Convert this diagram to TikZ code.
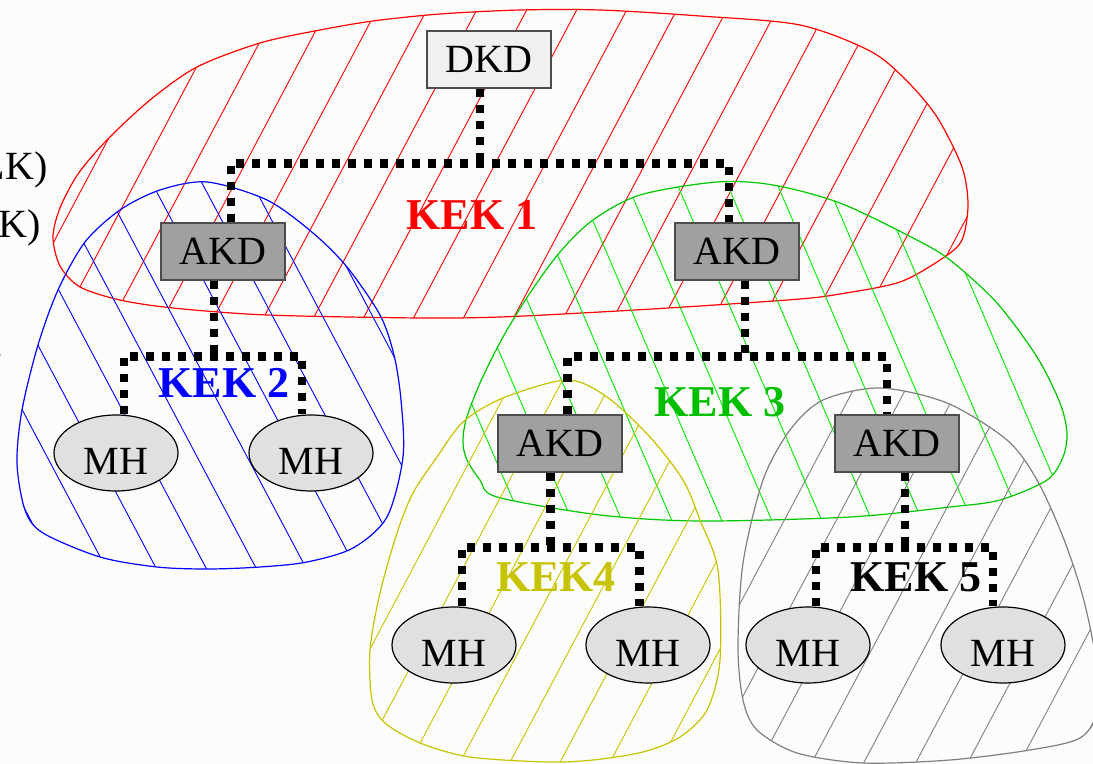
\documentclass[tikz,border=0pt]{standalone}
\usepackage{fontspec}
\setmainfont{Liberation Serif}
\usepackage{xcolor}
\usepackage{tikz}
\usetikzlibrary{shapes.geometric, positioning}

\definecolor{bgcol}{RGB}{252,252,250}
\definecolor{kekred}{RGB}{255,0,0}
\definecolor{kekblue}{RGB}{0,0,255}
\definecolor{kekgreen}{RGB}{0,200,0}
\definecolor{hatchgreen}{RGB}{0,235,0}
\definecolor{kekyellow}{RGB}{200,195,0}
\definecolor{kekgray}{RGB}{128,128,128}
\definecolor{dkdfill}{RGB}{240,240,240}
\definecolor{akdfill}{RGB}{160,160,160}
\definecolor{mhfill}{RGB}{224,224,224}

\begin{document}
\begin{tikzpicture}[x=0.5pt, y=-0.5pt,
    box/.style={draw=black!70, line width=0.7pt, minimum width=62pt, minimum height=28.5pt, inner sep=0pt, font=\fontsize{20}{24}\selectfont},
    dkdbox/.style={box, fill=dkdfill},
    akdbox/.style={box, fill=akdfill},
    mh/.style={ellipse, draw=black, line width=0.6pt, fill=mhfill, minimum width=62pt, minimum height=38pt, inner sep=0pt, text height=22pt, text depth=0pt, font=\fontsize{20}{24}\selectfont},
    link/.style={line width=4.2pt, dash pattern=on 4pt off 4pt},
    keklabel/.style={font=\fontsize{22}{26}\selectfont\bfseries},
    lefttext/.style={inner sep=0pt, font=\fontsize{20}{24}\selectfont},
    hatch/.style={line width=0.45pt},
    rim/.style={line width=0.6pt},
]
% Define the outlines of the groups
\def\redblob{plot[smooth cycle] coordinates {(53,237) (60,208) (78,174) (107,140) (150,100) (197,67) (260,43) (320,30) (373,21) (440,14) (520,10) (600,10) (700,16) (800,25) (870,51) (906,80) (937,117) (962,167) (968,205) (962,240) (943,258) (900,282) (840,294) (800,299) (700,306) (600,312) (500,317) (420,318) (267,315) (173,308) (120,300) (80,287) (60,266)}}
\def\blueblob{plot[smooth cycle] coordinates {(207,182) (160,190) (120,210) (85,242) (58,290) (38,345) (22,410) (17,463) (25,510) (43,533) (100,557) (157,567) (208,569) (260,567) (307,562) (353,548) (387,517) (403,457) (401,400) (394,355) (380,315) (347,267) (313,233) (267,200)}}
\def\greenblob{plot[smooth cycle] coordinates {(717,182) (640,195) (593,220) (560,252) (530,293) (503,337) (480,383) (466,420) (463,443) (467,460) (480,480) (497,497) (600,515) (700,521) (850,517) (950,507) (1000,500) (1047,480) (1063,457) (1067,433) (1060,403) (1037,357) (997,303) (950,260) (913,238) (840,203) (773,185)}}
\def\yellowblob{plot[smooth cycle] coordinates {(567,380) (503,398) (463,422) (437,457) (413,493) (397,533) (380,593) (370,650) (372,700) (385,723) (420,743) (470,757) (547,762) (593,760) (643,752) (680,737) (707,710) (720,660) (718,570) (700,520) (683,480) (650,437) (607,397)}}
\def\grayblob{plot[smooth cycle] coordinates {(880,388) (823,400) (790,430) (763,480) (743,563) (738,647) (743,700) (757,730) (797,753) (863,763) (950,760) (1030,750) (1080,738) (1098,710) (1096,660) (1083,597) (1063,537) (1037,480) (1007,440) (947,403)}}

\useasboundingbox (0,0) rectangle (1093,764);
\fill[bgcol] (0,0) rectangle (1093,764);
\clip (0,0) rectangle (1093,764);

% Hatched groups
\begin{scope}
  \clip \redblob;
  \foreach \k in {-10,...,25} \draw[hatch, kekred] (8+50*\k,800) -- ++(424,-800);
\end{scope}
\draw[rim, kekred] \redblob;

\begin{scope}
  \clip \blueblob;
  \foreach \k in {-10,...,25} \draw[hatch, kekblue] (5+50*\k,0) -- ++(424,800);
\end{scope}
\draw[rim, kekblue] \blueblob;

\begin{scope}
  \clip \greenblob;
  \foreach \k in {-10,...,25} \draw[hatch, hatchgreen] (48+50*\k,0) -- ++(344,800);
\end{scope}
\draw[rim, kekgreen] \greenblob;

\begin{scope}
  \clip \yellowblob;
  \foreach \k in {-10,...,25} \draw[hatch, kekyellow] (40+50*\k,800) -- ++(424,-800);
\end{scope}
\draw[rim, kekyellow] \yellowblob;

\begin{scope}
  \clip \grayblob;
  \foreach \k in {-10,...,25} \draw[hatch, kekgray] (12+52*\k,800) -- ++(424,-800);
\end{scope}
\draw[rim, kekgray] \grayblob;

% Distributors and hosts
\node[dkdbox] (dkd) at (489,59.5) {DKD};
\node[akdbox] (akd1) at (223,251.5) {AKD};
\node[akdbox] (akd2) at (737,251.5) {AKD};
\node[akdbox] (akd3) at (560,443.5) {AKD};
\node[akdbox] (akd4) at (897,443.5) {AKD};
\node[mh] (mh1) at (116,453) {MH};
\node[mh] (mh2) at (311,453) {MH};
\node[mh] (mh3) at (454,645) {MH};
\node[mh] (mh4) at (648,645) {MH};
\node[mh] (mh5) at (808,645) {MH};
\node[mh] (mh6) at (1003,645) {MH};

% Dotted tree links
\draw[link] ([xshift=-4.5pt]dkd.south) -- ++(0,75) coordinate (t1);
\draw[link] ([xshift=4pt]akd1.north) |- (t1) -| ([xshift=-4pt]akd2.north);
\draw[link] ([xshift=-4.5pt]akd1.south) -- ++(0,76) coordinate (t2);
\draw[link] ([xshift=4pt]mh1.north) |- (t2) -| ([xshift=-4.5pt]mh2.north);
\draw[link] ([xshift=4pt]akd2.south) -- ++(0,76) coordinate (t3);
\draw[link] ([xshift=3.75pt]akd3.north) |- (t3) -| ([xshift=-5pt]akd4.north);
\draw[link] ([xshift=-4.75pt]akd3.south) -- ++(0,75) coordinate (t4);
\draw[link] ([xshift=4pt]mh3.north) |- (t4) -| ([xshift=-4.25pt]mh4.north);
\draw[link] ([xshift=4pt]akd4.south) -- ++(0,75) coordinate (t5);
\draw[link] ([xshift=4pt]mh5.north) |- (t5) -| ([xshift=-5pt]mh6.north);

% Group labels
\node[keklabel, text=kekred] (kek1) at (472,215) {KEK 1};
\node[keklabel, text=kekblue] (kek2) at (224,383) {KEK 2};
\node[keklabel, text=kekgreen!95!black] (kek3) at (720,402) {KEK 3};
\node[keklabel, text=kekyellow] (kek4) at (556,577) {KEK4};
\node[keklabel, text=black] (kek5) at (916,577) {KEK 5};

% Cut-off text at the left edge
\node[lefttext, anchor=base east] (leg1) at (48,180) {LK)};
\node[lefttext, anchor=base east] (leg2) at (41,238) {K)};
\node[lefttext, anchor=base east] (leg3) at (4,358) {.};
\end{tikzpicture}
\end{document}
